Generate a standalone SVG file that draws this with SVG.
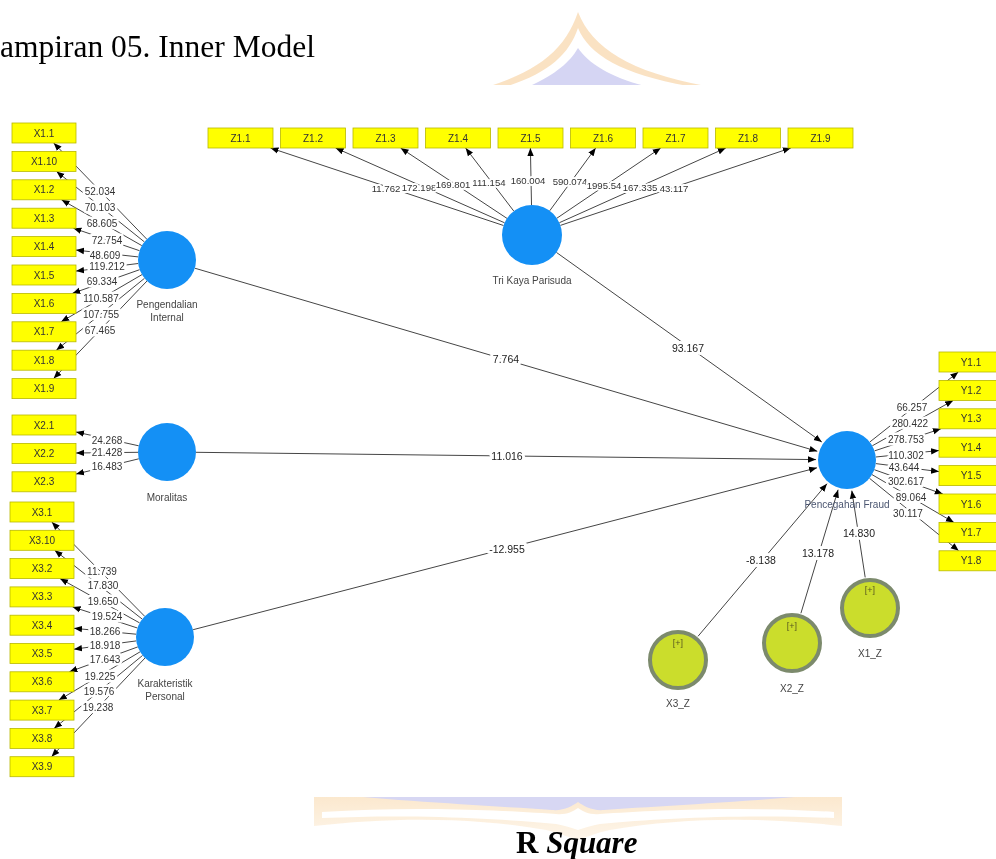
<svg xmlns="http://www.w3.org/2000/svg" width="996" height="859" viewBox="0 0 996 859">
<style>
.ln{stroke:#4a4a4a;stroke-width:1;fill:none}
.la{stroke:#454545;stroke-width:1;fill:none;marker-end:url(#arr)}
.lbl{font-family:"Liberation Sans",Arial,sans-serif;font-size:10px;fill:#333;text-anchor:middle;stroke:#fff;stroke-width:5;stroke-linejoin:round;paint-order:stroke}
.zl{font-size:9.6px;stroke-width:4}
.plbl{font-family:"Liberation Sans",Arial,sans-serif;font-size:10.5px;fill:#222;text-anchor:middle;stroke:#fff;stroke-width:6;stroke-linejoin:round;paint-order:stroke}
.box{fill:#ffff00;stroke:#b8b800;stroke-width:0.8}
.bt{font-family:"Liberation Sans",Arial,sans-serif;font-size:10px;fill:#333;text-anchor:middle}
.lv{fill:#1490f5}
.nl{font-family:"Liberation Sans",Arial,sans-serif;font-size:10px;fill:#444;text-anchor:middle}
.mod{fill:#cbdd2c;stroke:#7c8a6c;stroke-width:4}
.plus{font-family:"Liberation Sans",Arial,sans-serif;font-size:9px;fill:#5a5a20;text-anchor:middle}
</style>
<defs>
<marker id="arr" viewBox="0 0 10 10" refX="10" refY="5" markerWidth="8" markerHeight="8" markerUnits="userSpaceOnUse" orient="auto">
<path d="M0,1 L10,5 L0,9 z" fill="#000"/>
</marker>
<clipPath id="topc"><rect x="0" y="0" width="996" height="85"/></clipPath>
<clipPath id="botc"><rect x="0" y="797" width="996" height="62"/></clipPath>
<linearGradient id="pfade" x1="0" y1="0" x2="0" y2="1">
<stop offset="0" stop-color="#f9d9ad"/>
<stop offset="1" stop-color="#fdf0de"/>
</linearGradient>
</defs>
<rect width="996" height="859" fill="#fff"/>
<g id="watermark" opacity="0.6">
<g clip-path="url(#topc)">
<path d="M490 86 C540 70 566 48 578 12 C592 48 630 72 706 86 Z" fill="#f7cf9c"/>
<path d="M508 86 C550 72 569 54 578 28 C589 55 622 74 688 86 Z" fill="#fff"/>
<path d="M530 86 C556 74 570 62 578 48 C588 63 610 77 645 86 Z" fill="#b9b9ec"/>
</g>
<g clip-path="url(#botc)">
<path d="M314 796 H842 V826 C770 818 690 816 610 830 C595 833 585 838 578 840 C570 838 560 833 546 830 C466 816 386 818 314 826 Z" fill="url(#pfade)"/>
<path d="M322 812 C410 806 500 810 556 814 C566 815 572 812 578 808 C584 812 590 815 600 814 C656 810 746 806 834 812 L834 818 C746 814 660 818 600 824 C590 826 584 828 578 830 C572 828 566 826 556 824 C496 818 410 814 322 818 Z" fill="#fff"/>
<path d="M352 796 H806 C740 802 660 806 604 810 C592 811 584 806 578 802 C572 806 564 811 552 810 C496 806 416 802 352 796 Z" fill="#bcbcec"/>
</g>
</g>
<text x="0" y="57" font-family="Liberation Serif,'Times New Roman',serif" font-size="31.5" fill="#000">ampiran 05. Inner Model</text>
<text x="516" y="853" font-family="Liberation Serif,'Times New Roman',serif" font-size="31" font-weight="bold" fill="#000">R <tspan font-style="italic">Square</tspan></text>
<g id="connectors">
<line class="la" x1="146.8" y1="239.2" x2="53.7" y2="143"/>
<line class="la" x1="144.4" y1="241.9" x2="56.5" y2="171.4"/>
<line class="la" x1="141.8" y1="245.6" x2="61.5" y2="199.8"/>
<line class="la" x1="139.5" y1="250.7" x2="73.4" y2="228.2"/>
<line class="la" x1="138.2" y1="256.9" x2="76" y2="250.1"/>
<line class="la" x1="138.2" y1="263.5" x2="76" y2="271.1"/>
<line class="la" x1="139.6" y1="269.7" x2="72.3" y2="293.4"/>
<line class="la" x1="142" y1="274.6" x2="61.1" y2="321.8"/>
<line class="la" x1="144.5" y1="278.3" x2="56.3" y2="350.2"/>
<line class="la" x1="147" y1="281" x2="53.6" y2="378.6"/>
<line class="la" x1="138.7" y1="445.8" x2="76" y2="432"/>
<line class="la" x1="138" y1="452.3" x2="76" y2="453"/>
<line class="la" x1="138.8" y1="458.8" x2="76" y2="474.1"/>
<line class="la" x1="144.7" y1="616.3" x2="51.8" y2="522"/>
<line class="la" x1="142.2" y1="619.1" x2="54.7" y2="550.3"/>
<line class="la" x1="139.6" y1="622.9" x2="60" y2="578.6"/>
<line class="la" x1="137.4" y1="628" x2="72.6" y2="606.9"/>
<line class="la" x1="136.1" y1="634.2" x2="74" y2="628.3"/>
<line class="la" x1="136.3" y1="640.9" x2="74" y2="649.2"/>
<line class="la" x1="137.8" y1="646.9" x2="69.4" y2="671.8"/>
<line class="la" x1="140.1" y1="651.8" x2="58.8" y2="700.1"/>
<line class="la" x1="142.6" y1="655.4" x2="54.1" y2="728.4"/>
<line class="la" x1="145" y1="658" x2="51.5" y2="756.7"/>
<line class="la" x1="503.5" y1="225.5" x2="270.5" y2="148"/>
<line class="la" x1="504.6" y1="222.8" x2="335.6" y2="148"/>
<line class="la" x1="507" y1="218.4" x2="400.6" y2="148"/>
<line class="la" x1="513.8" y1="211.1" x2="465.6" y2="148"/>
<line class="la" x1="531.5" y1="205" x2="530.4" y2="148"/>
<line class="la" x1="549.7" y1="210.8" x2="595.7" y2="148"/>
<line class="la" x1="556.9" y1="218.2" x2="660.7" y2="148"/>
<line class="la" x1="559.4" y1="222.7" x2="725.8" y2="148"/>
<line class="la" x1="560.4" y1="225.4" x2="790.8" y2="148"/>
<line class="la" x1="869.8" y1="442" x2="958.3" y2="372"/>
<line class="la" x1="872.3" y1="445.8" x2="953.2" y2="400.4"/>
<line class="la" x1="874.5" y1="450.9" x2="940.9" y2="428.8"/>
<line class="la" x1="875.8" y1="457" x2="939" y2="450.5"/>
<line class="la" x1="875.8" y1="463.6" x2="939" y2="471.6"/>
<line class="la" x1="874.3" y1="469.7" x2="942.8" y2="494"/>
<line class="la" x1="872" y1="474.6" x2="953.9" y2="522.4"/>
<line class="la" x1="869.5" y1="478.3" x2="958.7" y2="550.8"/>
<line class="la" x1="194.8" y1="268.2" x2="817.3" y2="451.3"/>
<line class="la" x1="196" y1="452.3" x2="816" y2="459.6"/>
<line class="la" x1="193.1" y1="629.7" x2="817" y2="467.8"/>
<line class="la" x1="556.4" y1="252.4" x2="821.8" y2="442"/>
<line class="la" x1="698" y1="636.3" x2="827" y2="483.7"/>
<line class="la" x1="800.9" y1="613.3" x2="838.1" y2="489.7"/>
<line class="la" x1="865.2" y1="577.4" x2="851.8" y2="490.6"/>
<text class="lbl" x="100" y="195.2">52.034</text>
<text class="lbl" x="100" y="211.2">70.103</text>
<text class="lbl" x="102" y="226.8">68.605</text>
<text class="lbl" x="107" y="243.5">72.754</text>
<text class="lbl" x="105" y="258.5">48.609</text>
<text class="lbl" x="107" y="270.2">119.212</text>
<text class="lbl" x="102" y="285.2">69.334</text>
<text class="lbl" x="101" y="301.8">110.587</text>
<text class="lbl" x="101" y="317.5">107.755</text>
<text class="lbl" x="100" y="333.5">67.465</text>
<text class="lbl" x="107" y="443.5">24.268</text>
<text class="lbl" x="107" y="456.2">21.428</text>
<text class="lbl" x="107" y="470.2">16.483</text>
<text class="lbl" x="102" y="574.5">11.739</text>
<text class="lbl" x="103" y="589.2">17.830</text>
<text class="lbl" x="103" y="605.2">19.650</text>
<text class="lbl" x="107" y="620.2">19.524</text>
<text class="lbl" x="105" y="635.2">18.266</text>
<text class="lbl" x="105" y="648.5">18.918</text>
<text class="lbl" x="105" y="662.5">17.643</text>
<text class="lbl" x="100" y="679.5">19.225</text>
<text class="lbl" x="99" y="695.2">19.576</text>
<text class="lbl" x="98" y="710.8">19.238</text>
<text class="lbl zl" x="386" y="191.5">11.762</text>
<text class="lbl zl" x="419" y="190.5">172.198</text>
<text class="lbl zl" x="453" y="187.5">169.801</text>
<text class="lbl zl" x="489" y="185.5">111.154</text>
<text class="lbl zl" x="528" y="183.5">160.004</text>
<text class="lbl zl" x="570" y="184.5">590.074</text>
<text class="lbl zl" x="604" y="188.5">1995.54</text>
<text class="lbl zl" x="640" y="190.5">167.335</text>
<text class="lbl zl" x="674" y="191.5">43.117</text>
<text class="lbl" x="912" y="410.5">66.257</text>
<text class="lbl" x="910" y="426.5">280.422</text>
<text class="lbl" x="906" y="442.5">278.753</text>
<text class="lbl" x="906" y="458.5">110.302</text>
<text class="lbl" x="904" y="470.5">43.644</text>
<text class="lbl" x="906" y="484.5">302.617</text>
<text class="lbl" x="911" y="500.5">89.064</text>
<text class="lbl" x="908" y="516.5">30.117</text>
<text class="plbl" x="506" y="362.5">7.764</text>
<text class="plbl" x="507" y="459.5">11.016</text>
<text class="plbl" x="507" y="552.5">-12.955</text>
<text class="plbl" x="688" y="351.5">93.167</text>
<text class="plbl" x="761" y="563.5">-8.138</text>
<text class="plbl" x="818" y="556.5">13.178</text>
<text class="plbl" x="859" y="536.5">14.830</text>
</g>
<g id="X1.1"><rect class="box" x="12" y="123" width="64" height="20"/><text class="bt" x="44" y="136.5">X1.1</text></g>
<g id="X1.10"><rect class="box" x="12" y="151.4" width="64" height="20"/><text class="bt" x="44" y="164.9">X1.10</text></g>
<g id="X1.2"><rect class="box" x="12" y="179.8" width="64" height="20"/><text class="bt" x="44" y="193.3">X1.2</text></g>
<g id="X1.3"><rect class="box" x="12" y="208.2" width="64" height="20"/><text class="bt" x="44" y="221.7">X1.3</text></g>
<g id="X1.4"><rect class="box" x="12" y="236.6" width="64" height="20"/><text class="bt" x="44" y="250.1">X1.4</text></g>
<g id="X1.5"><rect class="box" x="12" y="265" width="64" height="20"/><text class="bt" x="44" y="278.5">X1.5</text></g>
<g id="X1.6"><rect class="box" x="12" y="293.4" width="64" height="20"/><text class="bt" x="44" y="306.9">X1.6</text></g>
<g id="X1.7"><rect class="box" x="12" y="321.8" width="64" height="20"/><text class="bt" x="44" y="335.3">X1.7</text></g>
<g id="X1.8"><rect class="box" x="12" y="350.2" width="64" height="20"/><text class="bt" x="44" y="363.7">X1.8</text></g>
<g id="X1.9"><rect class="box" x="12" y="378.6" width="64" height="20"/><text class="bt" x="44" y="392.1">X1.9</text></g>
<g id="X2.1"><rect class="box" x="12" y="415" width="64" height="20"/><text class="bt" x="44" y="428.5">X2.1</text></g>
<g id="X2.2"><rect class="box" x="12" y="443.4" width="64" height="20"/><text class="bt" x="44" y="456.9">X2.2</text></g>
<g id="X2.3"><rect class="box" x="12" y="471.8" width="64" height="20"/><text class="bt" x="44" y="485.3">X2.3</text></g>
<g id="X3.1"><rect class="box" x="10" y="502" width="64" height="20"/><text class="bt" x="42" y="515.5">X3.1</text></g>
<g id="X3.10"><rect class="box" x="10" y="530.3" width="64" height="20"/><text class="bt" x="42" y="543.8">X3.10</text></g>
<g id="X3.2"><rect class="box" x="10" y="558.6" width="64" height="20"/><text class="bt" x="42" y="572.1">X3.2</text></g>
<g id="X3.3"><rect class="box" x="10" y="586.9" width="64" height="20"/><text class="bt" x="42" y="600.4">X3.3</text></g>
<g id="X3.4"><rect class="box" x="10" y="615.2" width="64" height="20"/><text class="bt" x="42" y="628.7">X3.4</text></g>
<g id="X3.5"><rect class="box" x="10" y="643.5" width="64" height="20"/><text class="bt" x="42" y="657">X3.5</text></g>
<g id="X3.6"><rect class="box" x="10" y="671.8" width="64" height="20"/><text class="bt" x="42" y="685.3">X3.6</text></g>
<g id="X3.7"><rect class="box" x="10" y="700.1" width="64" height="20"/><text class="bt" x="42" y="713.6">X3.7</text></g>
<g id="X3.8"><rect class="box" x="10" y="728.4" width="64" height="20"/><text class="bt" x="42" y="741.9">X3.8</text></g>
<g id="X3.9"><rect class="box" x="10" y="756.7" width="64" height="20"/><text class="bt" x="42" y="770.2">X3.9</text></g>
<g id="Z1.1"><rect class="box" x="208" y="128" width="65" height="20"/><text class="bt" x="240.5" y="141.5">Z1.1</text></g>
<g id="Z1.2"><rect class="box" x="280.5" y="128" width="65" height="20"/><text class="bt" x="313" y="141.5">Z1.2</text></g>
<g id="Z1.3"><rect class="box" x="353" y="128" width="65" height="20"/><text class="bt" x="385.5" y="141.5">Z1.3</text></g>
<g id="Z1.4"><rect class="box" x="425.5" y="128" width="65" height="20"/><text class="bt" x="458" y="141.5">Z1.4</text></g>
<g id="Z1.5"><rect class="box" x="498" y="128" width="65" height="20"/><text class="bt" x="530.5" y="141.5">Z1.5</text></g>
<g id="Z1.6"><rect class="box" x="570.5" y="128" width="65" height="20"/><text class="bt" x="603" y="141.5">Z1.6</text></g>
<g id="Z1.7"><rect class="box" x="643" y="128" width="65" height="20"/><text class="bt" x="675.5" y="141.5">Z1.7</text></g>
<g id="Z1.8"><rect class="box" x="715.5" y="128" width="65" height="20"/><text class="bt" x="748" y="141.5">Z1.8</text></g>
<g id="Z1.9"><rect class="box" x="788" y="128" width="65" height="20"/><text class="bt" x="820.5" y="141.5">Z1.9</text></g>
<g id="Y1.1"><rect class="box" x="939" y="352" width="64" height="20"/><text class="bt" x="971" y="365.5">Y1.1</text></g>
<g id="Y1.2"><rect class="box" x="939" y="380.4" width="64" height="20"/><text class="bt" x="971" y="393.9">Y1.2</text></g>
<g id="Y1.3"><rect class="box" x="939" y="408.8" width="64" height="20"/><text class="bt" x="971" y="422.3">Y1.3</text></g>
<g id="Y1.4"><rect class="box" x="939" y="437.2" width="64" height="20"/><text class="bt" x="971" y="450.7">Y1.4</text></g>
<g id="Y1.5"><rect class="box" x="939" y="465.6" width="64" height="20"/><text class="bt" x="971" y="479.1">Y1.5</text></g>
<g id="Y1.6"><rect class="box" x="939" y="494" width="64" height="20"/><text class="bt" x="971" y="507.5">Y1.6</text></g>
<g id="Y1.7"><rect class="box" x="939" y="522.4" width="64" height="20"/><text class="bt" x="971" y="535.9">Y1.7</text></g>
<g id="Y1.8"><rect class="box" x="939" y="550.8" width="64" height="20"/><text class="bt" x="971" y="564.3">Y1.8</text></g>
<g id="pengendalian-internal"><circle class="lv" cx="167" cy="260" r="29"/><text class="nl" x="167" y="307.5">Pengendalian</text><text class="nl" x="167" y="320.5">Internal</text></g>
<g id="moralitas"><circle class="lv" cx="167" cy="452" r="29"/><text class="nl" x="167" y="500.5">Moralitas</text></g>
<g id="karakteristik-personal"><circle class="lv" cx="165" cy="637" r="29"/><text class="nl" x="165" y="686.5">Karakteristik</text><text class="nl" x="165" y="699.5">Personal</text></g>
<g id="tri-kaya-parisuda"><circle class="lv" cx="532" cy="235" r="30"/><text class="nl" x="532" y="284">Tri Kaya Parisuda</text></g>
<g id="pencegahan-fraud"><circle class="lv" cx="847" cy="460" r="29"/><text class="nl" x="847" y="507.5" style="fill:#4a5570">Pencegahan Fraud</text></g>
<g id="X3_Z"><circle class="mod" cx="678" cy="660" r="28"/><text class="plus" x="678" y="646">[+]</text><text class="nl" x="678" y="706.5">X3_Z</text></g>
<g id="X2_Z"><circle class="mod" cx="792" cy="643" r="28"/><text class="plus" x="792" y="629">[+]</text><text class="nl" x="792" y="691.5">X2_Z</text></g>
<g id="X1_Z"><circle class="mod" cx="870" cy="608" r="28"/><text class="plus" x="870" y="593">[+]</text><text class="nl" x="870" y="656.5">X1_Z</text></g>
</svg>
